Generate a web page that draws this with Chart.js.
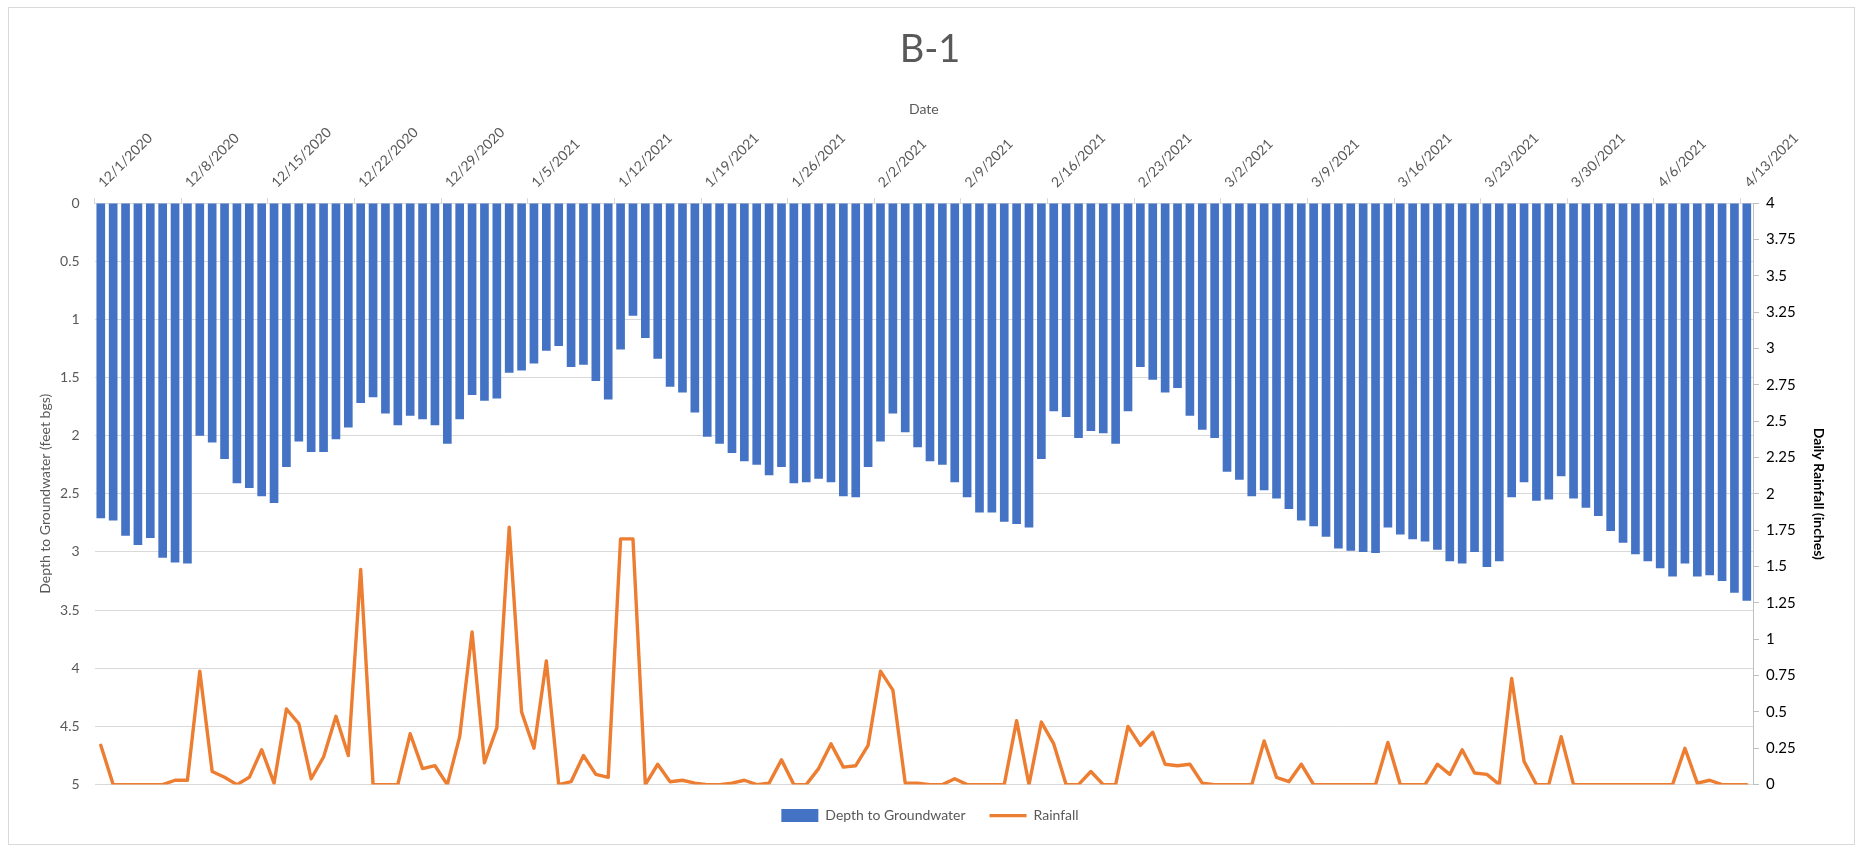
<!DOCTYPE html>
<html>
<head>
<meta charset="utf-8">
<title>B-1</title>
<script src="https://cdn.jsdelivr.net/npm/chart.js@4.4.1/dist/chart.umd.min.js"></script>
<style>
  html, body { margin: 0; padding: 0; background: #ffffff; }
  canvas { display: block; }
</style>
</head>
<body>
<canvas id="chart" width="1860" height="851"></canvas>
<script>
// Daily readings, 12/1/2020 through 4/13/2021
const startYear = 2020, startMonth = 12, startDay = 1;
const dayCount = 134;
const dates = [];
for (let i = 0; i < dayCount; i++) {
  const d = new Date(startYear, startMonth - 1, startDay + i);
  dates.push((d.getMonth() + 1) + '/' + d.getDate() + '/' + d.getFullYear());
}
const labelEvery = 7; // one date label per week

// Depth to groundwater, feet below ground surface
const depthFeet = [
  2.71, 2.73, 2.86, 2.94, 2.88, 3.05, 3.09, 3.10, 2.00, 2.06,
  2.20, 2.41, 2.45, 2.52, 2.58, 2.27, 2.05, 2.14, 2.14, 2.03,
  1.93, 1.72, 1.67, 1.81, 1.91, 1.83, 1.86, 1.91, 2.07, 1.86,
  1.65, 1.70, 1.68, 1.46, 1.44, 1.38, 1.27, 1.23, 1.41, 1.39,
  1.53, 1.69, 1.26, 0.97, 1.16, 1.34, 1.58, 1.63, 1.80, 2.01,
  2.07, 2.15, 2.22, 2.25, 2.34, 2.27, 2.41, 2.40, 2.37, 2.40,
  2.52, 2.53, 2.27, 2.05, 1.81, 1.97, 2.10, 2.22, 2.25, 2.40,
  2.53, 2.66, 2.66, 2.74, 2.76, 2.79, 2.20, 1.79, 1.84, 2.02,
  1.96, 1.98, 2.07, 1.79, 1.41, 1.52, 1.63, 1.59, 1.83, 1.95,
  2.02, 2.31, 2.38, 2.52, 2.47, 2.54, 2.63, 2.73, 2.78, 2.87,
  2.97, 2.99, 3.00, 3.01, 2.79, 2.85, 2.89, 2.91, 2.98, 3.08,
  3.10, 3.00, 3.13, 3.08, 2.53, 2.40, 2.56, 2.55, 2.35, 2.54,
  2.62, 2.69, 2.82, 2.92, 3.02, 3.08, 3.14, 3.21, 3.10, 3.21,
  3.20, 3.25, 3.35, 3.42
];

// Daily rainfall, inches
const rainfallInches = [
  0.27, 0.00, 0.00, 0.00, 0.00, 0.00, 0.03, 0.03, 0.78, 0.09,
  0.05, 0.00, 0.05, 0.24, 0.01, 0.52, 0.42, 0.04, 0.19, 0.47,
  0.20, 1.48, 0.00, 0.00, 0.00, 0.35, 0.11, 0.13, 0.00, 0.33,
  1.05, 0.15, 0.39, 1.77, 0.50, 0.25, 0.85, 0.00, 0.02, 0.20,
  0.07, 0.05, 1.69, 1.69, 0.00, 0.14, 0.02, 0.03, 0.01, 0.00,
  0.00, 0.01, 0.03, 0.00, 0.01, 0.17, 0.00, 0.00, 0.11, 0.28,
  0.12, 0.13, 0.27, 0.78, 0.65, 0.01, 0.01, 0.00, 0.00, 0.04,
  0.00, 0.00, 0.00, 0.00, 0.44, 0.00, 0.43, 0.28, 0.00, 0.00,
  0.09, 0.00, 0.00, 0.40, 0.27, 0.36, 0.14, 0.13, 0.14, 0.01,
  0.00, 0.00, 0.00, 0.00, 0.30, 0.05, 0.02, 0.14, 0.00, 0.00,
  0.00, 0.00, 0.00, 0.00, 0.29, 0.00, 0.00, 0.00, 0.14, 0.07,
  0.24, 0.08, 0.07, 0.00, 0.73, 0.16, 0.00, 0.00, 0.33, 0.00,
  0.00, 0.00, 0.00, 0.00, 0.00, 0.00, 0.00, 0.00, 0.25, 0.01,
  0.03, 0.00, 0.00, 0.00
];

// Axis ranges
const depthAxis = { min: 0, max: 5, step: 0.5 };
const rainAxis = { min: 0, max: 4, step: 0.25 };

// Plot-area frame inside the 1860x851 canvas
const PLOT_LEFT = 94.6;
const PLOT_RIGHT = 1753;
const PLOT_TOP = 203;
const CANVAS_W = 1860;
const TITLE_SIZE = 38, TITLE_PAD_TOP = 27, TITLE_PAD_BOTTOM = 10;
const TITLE_BLOCK = TITLE_PAD_TOP + TITLE_SIZE * 1.2 + TITLE_PAD_BOTTOM;

const GREY_TEXT = '#595959';
const GRID = '#D9D9D9';

// Plain numbers on the value axes: 0, 0.5, 1, 1.25 ...
const plainNumber = v => String(Math.round(v * 100) / 100);

Chart.defaults.font.family = "Lato, 'Noto Sans', 'DejaVu Sans', sans-serif";

// White page with a thin outer frame
const framePlugin = {
  id: 'frame',
  beforeDraw(chart) {
    const c = chart.ctx;
    c.save();
    c.fillStyle = '#ffffff';
    c.fillRect(0, 0, chart.width, chart.height);
    c.strokeStyle = GRID;
    c.lineWidth = 1;
    c.strokeRect(8.5, 7.5, 1846, 837);
    c.restore();
  }
};

new Chart(document.getElementById('chart'), {
  data: {
    labels: dates,
    datasets: [
      {
        type: 'bar',
        label: 'Depth to Groundwater',
        data: depthFeet,
        backgroundColor: '#4472C4',
        borderWidth: 0,
        barPercentage: 0.7,
        categoryPercentage: 1.0,
        xAxisID: 'x',
        yAxisID: 'y',
        pointStyle: 'rect',
        order: 1
      },
      {
        type: 'line',
        label: 'Rainfall',
        data: rainfallInches,
        borderColor: '#ED7D31',
        backgroundColor: '#ED7D31',
        borderWidth: 3.4,
        borderJoinStyle: 'round',
        borderCapStyle: 'round',
        pointRadius: 0,
        pointHoverRadius: 0,
        pointBorderWidth: 3.4,
        pointBorderColor: '#ED7D31',
        pointStyle: 'line',
        tension: 0,
        fill: false,
        xAxisID: 'x',
        yAxisID: 'y2',
        order: 0
      }
    ]
  },
  options: {
    responsive: false,
    animation: false,
    devicePixelRatio: 1,
    events: [],
    layout: { padding: { left: 0, right: 0, top: 0, bottom: 18.4 } },
    plugins: {
      title: {
        display: true,
        text: 'B-1',
        color: GREY_TEXT,
        font: { size: TITLE_SIZE, weight: 'normal' },
        padding: { top: TITLE_PAD_TOP, bottom: TITLE_PAD_BOTTOM }
      },
      legend: {
        position: 'bottom',
        labels: {
          usePointStyle: true,
          pointStyleWidth: 37,
          boxHeight: 13,
          padding: 24,
          color: GREY_TEXT,
          font: { size: 14 },
          sort: (a, b) => a.datasetIndex - b.datasetIndex
        }
      },
      tooltip: { enabled: false }
    },
    scales: {
      x: {
        type: 'category',
        position: 'top',
        offset: true,
        grid: {
          offset: true,
          drawOnChartArea: false,
          drawTicks: true,
          tickLength: 5,
          color: ctx => (ctx.index !== undefined && ctx.index % labelEvery === 0) ? GRID : 'rgba(0,0,0,0)'
        },
        border: { display: true, color: GRID },
        ticks: {
          autoSkip: false,
          minRotation: 45,
          maxRotation: 45,
          padding: 7,
          labelOffset: 12,
          color: GREY_TEXT,
          font: { size: 14 },
          callback: (value, index) => index % labelEvery === 0 ? dates[index] : ''
        },
        title: {
          display: true,
          text: 'Date',
          color: GREY_TEXT,
          font: { size: 14 },
          padding: { top: 18, bottom: 0 }
        },
        afterFit(scale) { scale.height = PLOT_TOP - TITLE_BLOCK; }
      },
      y: {
        position: 'left',
        reverse: true,
        min: depthAxis.min,
        max: depthAxis.max,
        ticks: {
          stepSize: depthAxis.step,
          padding: 15,
          color: GREY_TEXT,
          font: { size: 14 },
          callback: plainNumber
        },
        grid: { color: GRID, drawTicks: false, lineWidth: 1 },
        border: { display: false },
        title: {
          display: true,
          text: 'Depth to Groundwater (feet bgs)',
          color: GREY_TEXT,
          font: { size: 14 },
          padding: { top: 36.6, bottom: 0 }
        },
        afterFit(scale) { scale.width = PLOT_LEFT; }
      },
      y2: {
        position: 'right',
        min: rainAxis.min,
        max: rainAxis.max,
        ticks: {
          stepSize: rainAxis.step,
          padding: 7,
          color: '#000000',
          font: { size: 15 },
          callback: plainNumber
        },
        grid: {
          drawOnChartArea: false,
          drawTicks: true,
          tickLength: 6,
          color: '#BFBFBF'
        },
        border: { display: true, color: '#BFBFBF' },
        title: {
          display: true,
          text: 'Daily Rainfall (inches)',
          color: '#000000',
          font: { size: 14, weight: 'bold' },
          padding: { top: 32.6, bottom: 0 }
        },
        afterFit(scale) { scale.width = CANVAS_W - PLOT_RIGHT; }
      }
    }
  },
  plugins: [framePlugin]
});
</script>
</body>
</html>
